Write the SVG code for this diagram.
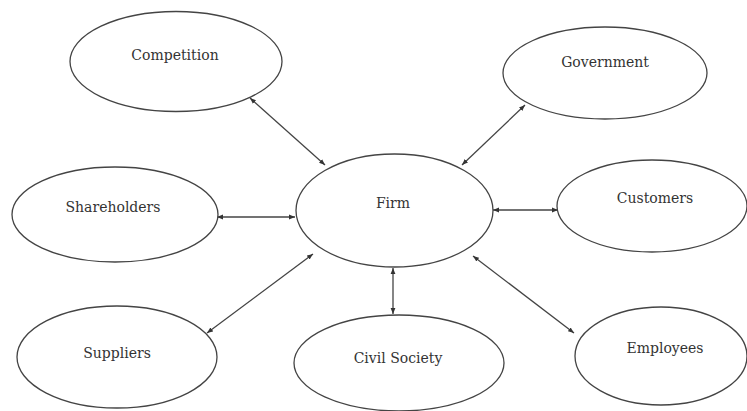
<svg xmlns="http://www.w3.org/2000/svg" width="747" height="411" viewBox="0 0 747 411">
<style>
.node ellipse{fill:#fff;stroke:#444;stroke-width:1.3}
.node text{font-family:'DejaVu Serif','Liberation Serif',serif;font-size:14px;fill:#333;text-anchor:middle}
.conn line{stroke:#444;stroke-width:1.3;marker-start:url(#ah);marker-end:url(#ah)}
</style>
<defs>
<marker id="ah" viewBox="0 0 10 10" refX="10" refY="5" markerWidth="6" markerHeight="6" markerUnits="userSpaceOnUse" orient="auto-start-reverse">
<path d="M0,1 L10,5 L0,9 z" fill="#333"/>
</marker>
</defs>
<rect width="747" height="411" fill="#fff"/>
<g id="connectors" class="conn">
<line x1="325" y1="165" x2="250" y2="98"/>
<line x1="462" y1="165" x2="525" y2="105"/>
<line x1="295" y1="217" x2="217" y2="217"/>
<line x1="493" y1="210" x2="558" y2="210"/>
<line x1="313" y1="254" x2="207" y2="333"/>
<line x1="393" y1="268" x2="393" y2="314"/>
<line x1="473" y1="256" x2="574" y2="333"/>
</g>
<g id="competition" class="node"><ellipse cx="176" cy="61.5" rx="106" ry="50"/><text x="175" y="60">Competition</text></g>
<g id="government" class="node"><ellipse cx="605" cy="73" rx="102" ry="46"/><text x="605" y="67">Government</text></g>
<g id="firm" class="node"><ellipse cx="394.5" cy="210.5" rx="98.5" ry="56.5"/><text x="393" y="208">Firm</text></g>
<g id="shareholders" class="node"><ellipse cx="115" cy="214.5" rx="103" ry="47.5"/><text x="113" y="212">Shareholders</text></g>
<g id="customers" class="node"><ellipse cx="652" cy="206" rx="95" ry="46"/><text x="655" y="203">Customers</text></g>
<g id="suppliers" class="node"><ellipse cx="117" cy="357" rx="100" ry="51"/><text x="117" y="358">Suppliers</text></g>
<g id="civil-society" class="node"><ellipse cx="399" cy="363" rx="105" ry="48"/><text x="398" y="363">Civil Society</text></g>
<g id="employees" class="node"><ellipse cx="661" cy="356" rx="86" ry="49"/><text x="665" y="353">Employees</text></g>
</svg>
